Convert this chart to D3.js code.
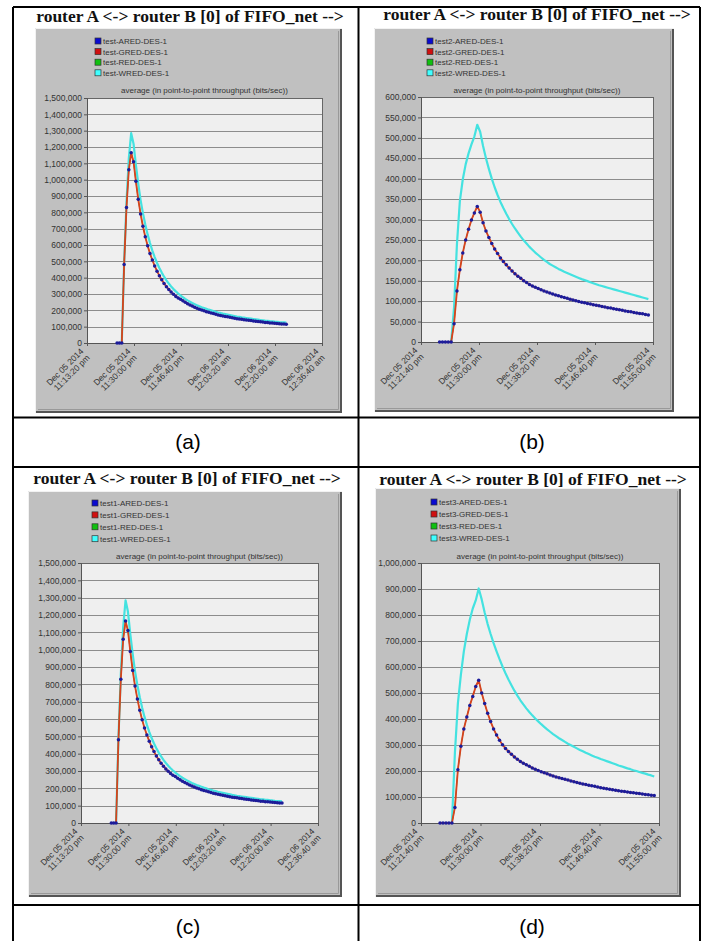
<!DOCTYPE html>
<html>
<head>
<meta charset="utf-8">
<script src="https://cdn.jsdelivr.net/npm/d3@7"></script>
<style>
  body { margin: 0; background: #fff; }
  svg { display: block; }
</style>
</head>
<body>
<div id="chart"></div>
<script>
// ---- data ----
var titleText = "router A <-> router B [0] of FIFO_net -->";
var plotTitle = "average (in point-to-point throughput (bits/sec))";

var aNames = ["test-ARED-DES-1", "test-GRED-DES-1", "test-RED-DES-1", "test-WRED-DES-1"];
var bNames = ["test2-ARED-DES-1", "test2-GRED-DES-1", "test2-RED-DES-1", "test2-WRED-DES-1"];
var cNames = ["test1-ARED-DES-1", "test1-GRED-DES-1", "test1-RED-DES-1", "test1-WRED-DES-1"];
var dNames = ["test3-ARED-DES-1", "test3-GRED-DES-1", "test3-RED-DES-1", "test3-WRED-DES-1"];

// x axis tick labels (long runs: a, c / short runs: b, d)
var longTicks = ["2014-12-05 23:13:20", "2014-12-05 23:30:00", "2014-12-05 23:46:40",
                 "2014-12-06 00:03:20", "2014-12-06 00:20:00", "2014-12-06 00:36:40"];
var shortTicks = ["2014-12-05 23:21:40", "2014-12-05 23:30:00", "2014-12-05 23:38:20",
                  "2014-12-05 23:46:40", "2014-12-05 23:55:00"];

var aYTicks = [0, 100000, 200000, 300000, 400000, 500000, 600000, 700000, 800000,
               900000, 1000000, 1100000, 1200000, 1300000, 1400000, 1500000];
var bYTicks = [0, 50000, 100000, 150000, 200000, 250000, 300000, 350000, 400000,
               450000, 500000, 550000, 600000];
var dYTicks = [0, 100000, 200000, 300000, 400000, 500000, 600000, 700000, 800000,
               900000, 1000000];

// sample clock of each run
var aStart = "2014-12-05 23:24:00", aStep = 50;
var bStart = "2014-12-05 23:24:20", bStep = 25;

// (a) ARED (blue) and WRED (cyan); GRED and RED sit on the ARED trace
var aBlue = [0, 0, 0, 480000, 830000, 1060000, 1165000, 1110000, 990000, 880000,
  790000, 715000, 650000, 595000, 548000, 508000, 472000, 440000, 412000, 387000,
  365000, 345000, 328000, 312000, 298000, 285000, 276000, 268000, 258000, 249000,
  241000, 233000, 226000, 219000, 213000, 207000, 202000, 197000, 192000, 188000,
  184000, 180000, 176000, 172000, 169000, 166000, 163000, 160000, 157000, 154000,
  152000, 149000, 147000, 145000, 143000, 141000, 139000, 137000, 135000, 133000,
  131000, 130000, 128000, 126000, 125000, 123000, 122000, 121000, 119000, 118000,
  117000, 116000, 115000];
var aCyan = [0, 0, 0, 490000, 860000, 1130000, 1285000, 1220000, 1090000, 975000,
  875000, 795000, 725000, 665000, 612000, 566000, 526000, 490000, 459000, 431000,
  406000, 384000, 364000, 346000, 330000, 316000, 303000, 291000, 280000, 270000,
  261000, 253000, 245000, 238000, 231000, 225000, 219000, 214000, 209000, 204000,
  200000, 195000, 191000, 187000, 184000, 180000, 177000, 174000, 171000, 168000,
  165000, 162000, 160000, 157000, 155000, 153000, 151000, 149000, 147000, 145000,
  143000, 141000, 139000, 137000, 136000, 134000, 133000, 131000, 130000, 128000,
  127000, 126000, 125000];

var bBlue = [0, 0, 0, 0, 0, 45000, 125000, 177000, 218000, 250000,
  276000, 299000, 316000, 332000, 318000, 292000, 272000, 256000, 241000, 228000,
  217000, 206000, 197000, 189000, 181000, 174000, 167000, 161000, 156000, 150000,
  146000, 141000, 137000, 134000, 131000, 128000, 125000, 122500, 120000, 117500,
  115000, 113000, 111000, 109000, 107000, 105000, 103000, 101000, 99000, 97500,
  96000, 94500, 93000, 91500, 90000, 88500, 87000, 85500, 84000, 83000,
  81500, 80000, 79000, 77500, 76000, 75000, 74000, 72500, 71000, 70000,
  69000, 67500, 66000];
var bCyan = [0, 0, 0, 0, 0, 85000, 240000, 345000, 398000, 435000,
  462000, 484000, 503000, 532000, 515000, 480000, 450000, 424000, 400000, 379000,
  360000, 343000, 328000, 314000, 301000, 289000, 278000, 268000, 258000, 249000,
  241000, 233000, 226000, 219000, 213000, 207000, 201000, 196000, 191000, 187000,
  183000, 179000, 175500, 172000, 169000, 166000, 163000, 160000, 157000, 154000,
  151500, 149000, 146500, 144000, 141500, 139000, 137000, 135000, 133000, 131000,
  129000, 127000, 125000, 123000, 121000, 119000, 117000, 115000, 113000, 111000,
  109000, 107000, 105000];

// (c) run traces are the same as (a)
var cBlue = aBlue, cCyan = aCyan;

var dBlue = [0, 0, 0, 0, 0, 60000, 205000, 295000, 362000, 408000,
  452000, 487000, 525000, 549000, 500000, 460000, 422000, 390000, 362000, 338000,
  318000, 301000, 287000, 275000, 264000, 254000, 245000, 237000, 230000, 224000,
  218000, 212000, 207000, 202000, 197000, 193000, 189000, 185000, 181000, 177000,
  174000, 171000, 168000, 165000, 162000, 159000, 156000, 153000, 150000, 148000,
  145000, 143000, 141000, 138000, 136000, 134000, 132000, 130000, 128000, 126000,
  124000, 122500, 121000, 119000, 117500, 116000, 114500, 113000, 111500, 110000,
  108500, 107000, 105500];
var dCyan = [0, 0, 0, 0, 0, 270000, 460000, 570000, 660000, 727000,
  782000, 825000, 856000, 902000, 860000, 810000, 765000, 727000, 692000, 660000,
  630000, 602000, 576000, 552000, 530000, 509000, 490000, 472000, 456000, 441000,
  427000, 414000, 402000, 391000, 380000, 370000, 360000, 351000, 342000, 334000,
  326000, 319000, 312000, 305000, 299000, 293000, 287000, 281000, 276000, 270000,
  265000, 260000, 255000, 251000, 246000, 242000, 238000, 234000, 230000, 226000,
  221000, 218000, 214000, 210000, 207000, 203000, 200000, 196000, 193000, 190000,
  186000, 183000, 179000];

// ---- drawing ----
var W = 706, H = 941;
var parse = d3.timeParse("%Y-%m-%d %H:%M:%S");
var fmtDay = d3.timeFormat("%b %d %Y"),
    fmtTime = d3.timeFormat("%I:%M:%S %p");
var sans = "'Liberation Sans', Arial, sans-serif";

var svg = d3.select("#chart").append("svg")
    .attr("width", W)
    .attr("height", H);

svg.append("rect").attr("width", W).attr("height", H).attr("fill", "#fff");

function series(start, step, values) {
  var t0 = parse(start);
  return values.map(function(v, i) {
    return {t: d3.timeSecond.offset(t0, i * step), v: v};
  });
}

var legendColors = ["#0a0ad0", "#d01010", "#10c010", "#40ffff"];

function drawPanel(p) {
  var g = svg.append("g");

  // title above the chart image
  g.append("text")
      .attr("x", p.titleX)
      .attr("y", p.titleY)
      .attr("text-anchor", "middle")
      .attr("font-family", "'Liberation Serif', 'Times New Roman', serif")
      .attr("font-weight", "bold")
      .attr("font-size", 17.5)
      .attr("fill", "#111")
      .text(titleText);

  // raised grey frame
  var b = p.box;
  g.append("rect")
      .attr("x", b.x).attr("y", b.y)
      .attr("width", b.w).attr("height", b.h)
      .attr("fill", "#c0c0c0");
  g.append("path")
      .attr("d", "M" + (b.x + 0.5) + "," + (b.y + b.h) + "V" + (b.y + 0.5) + "H" + (b.x + b.w))
      .attr("fill", "none").attr("stroke", "#f2f2f2");
  g.append("path")
      .attr("d", "M" + (b.x + b.w - 1) + "," + (b.y + 1) + "V" + (b.y + b.h - 1) + "H" + (b.x + 1))
      .attr("fill", "none").attr("stroke", "#555").attr("stroke-width", 2);
  g.append("path")
      .attr("d", "M" + (b.x + b.w - 3.5) + "," + (b.y + 3) + "V" + (b.y + b.h - 3.5) + "H" + (b.x + 3))
      .attr("fill", "none").attr("stroke", "#999");

  // legend
  var lg = g.append("g");
  p.names.forEach(function(name, i) {
    var yy = p.legend.y + i * p.legend.dy;
    lg.append("rect")
        .attr("x", p.legend.x).attr("y", yy - 3)
        .attr("width", 6).attr("height", 6)
        .attr("fill", legendColors[i])
        .attr("stroke", "#333").attr("stroke-width", 0.7);
    lg.append("text")
        .attr("x", p.legend.x + 8).attr("y", yy + 3)
        .attr("font-family", sans).attr("font-size", 8)
        .attr("fill", "#333")
        .text(name);
  });

  var pl = p.plot;
  var xTicks = p.ticks.map(parse);
  var x = d3.scaleTime()
      .domain([xTicks[0], xTicks[xTicks.length - 1]])
      .range([pl.x, pl.x + pl.w]);
  var y = d3.scaleLinear()
      .domain([0, p.yTicks[p.yTicks.length - 1]])
      .range([pl.y + pl.h, pl.y]);

  g.append("text")
      .attr("x", pl.x + pl.w / 2)
      .attr("y", p.plotTitleY)
      .attr("text-anchor", "middle")
      .attr("font-family", sans).attr("font-size", 8)
      .attr("fill", "#333")
      .text(plotTitle);

  g.append("rect")
      .attr("x", pl.x).attr("y", pl.y)
      .attr("width", pl.w).attr("height", pl.h)
      .attr("fill", "#efefef");

  // horizontal grid
  g.append("g").selectAll("line")
      .data(p.yTicks.slice(1))
      .join("line")
      .attr("x1", pl.x).attr("x2", pl.x + pl.w)
      .attr("y1", function(d) { return Math.round(y(d)) + 0.5; })
      .attr("y2", function(d) { return Math.round(y(d)) + 0.5; })
      .attr("stroke", "#8c8c8c");

  g.append("rect")
      .attr("x", pl.x + 0.5).attr("y", pl.y + 0.5)
      .attr("width", pl.w).attr("height", pl.h)
      .attr("fill", "none").attr("stroke", "#666");

  // y axis
  var yAxis = g.append("g")
      .attr("transform", "translate(" + pl.x + ",0)")
      .call(d3.axisLeft(y).tickValues(p.yTicks).tickFormat(d3.format(",")).tickSize(3).tickPadding(2));
  yAxis.select(".domain").attr("stroke", "#555");
  yAxis.selectAll(".tick line").attr("stroke", "#555");
  yAxis.selectAll("text")
      .attr("font-family", sans).attr("font-size", 8.5)
      .attr("fill", "#333");

  // x axis
  var y0 = pl.y + pl.h;
  var xAxis = g.append("g")
      .attr("transform", "translate(0," + y0 + ")")
      .call(d3.axisBottom(x).tickValues(xTicks).tickFormat("").tickSize(3));
  xAxis.select(".domain").attr("stroke", "#555");
  xAxis.selectAll(".tick line").attr("stroke", "#555");

  var labels = g.append("g").selectAll("g")
      .data(xTicks)
      .join("g")
      .attr("transform", function(d) {
        return "translate(" + (x(d) - 3) + "," + (y0 + 9) + ") rotate(-45)";
      });
  var txt = labels.append("text")
      .attr("text-anchor", "end")
      .attr("font-family", sans).attr("font-size", 8.5)
      .attr("fill", "#333");
  txt.append("tspan").attr("x", 0).attr("dy", 0)
      .text(function(d) { return fmtDay(d); });
  txt.append("tspan").attr("x", 0).attr("dy", "1.05em")
      .text(function(d) { return fmtTime(d).toLowerCase(); });

  // traces
  var blue = series(p.start, p.step, p.blue),
      cyan = series(p.start, p.step, p.cyan);
  var line = d3.line()
      .x(function(d) { return x(d.t); })
      .y(function(d) { return y(d.v); });

  g.append("path").datum(cyan)
      .attr("d", line).attr("fill", "none")
      .attr("stroke", "#44e2e0").attr("stroke-width", 2.2)
      .attr("stroke-linejoin", "round");
  // RED and GRED runs overlap the ARED run
  g.append("path").datum(blue)
      .attr("d", line).attr("fill", "none")
      .attr("stroke", "#22b022").attr("stroke-width", 1);
  g.append("path").datum(blue)
      .attr("d", line).attr("fill", "none")
      .attr("stroke", "#d8421e").attr("stroke-width", 1.8)
      .attr("stroke-linejoin", "round");
  g.append("g").selectAll("circle")
      .data(blue)
      .join("circle")
      .attr("cx", function(d) { return x(d.t); })
      .attr("cy", function(d) { return y(d.v); })
      .attr("r", 1.75)
      .attr("fill", "#1c1c9a");
}

var panels = [
  {names: aNames, titleX: 190, titleY: 22, ticks: longTicks, yTicks: aYTicks,
   start: aStart, step: aStep, blue: aBlue, cyan: aCyan,
   box: {x: 35, y: 28, w: 307, h: 385}, legend: {x: 95, y: 41, dy: 10.6},
   plotTitleY: 93, plot: {x: 87, y: 98, w: 235, h: 245}},
  {names: bNames, titleX: 537, titleY: 20, ticks: shortTicks, yTicks: bYTicks,
   start: bStart, step: bStep, blue: bBlue, cyan: bCyan,
   box: {x: 374, y: 28, w: 300, h: 384}, legend: {x: 427, y: 41, dy: 10.6},
   plotTitleY: 93, plot: {x: 421, y: 97, w: 232, h: 245}},
  {names: cNames, titleX: 187, titleY: 484, ticks: longTicks, yTicks: aYTicks,
   start: aStart, step: aStep, blue: cBlue, cyan: cCyan,
   box: {x: 28, y: 491, w: 314, h: 406}, legend: {x: 92, y: 503, dy: 11.9},
   plotTitleY: 559, plot: {x: 81, y: 563, w: 237, h: 260}},
  {names: dNames, titleX: 533, titleY: 485, ticks: shortTicks, yTicks: dYTicks,
   start: bStart, step: bStep, blue: dBlue, cyan: dCyan,
   box: {x: 375, y: 488, w: 306, h: 409}, legend: {x: 431, y: 502, dy: 12},
   plotTitleY: 559, plot: {x: 421, y: 563, w: 238, h: 260}}
];

panels.forEach(drawPanel);

// table rules and captions
var rules = svg.append("g").attr("stroke", "#000").attr("stroke-width", 2);
[[13, 7, 700, 7], [13, 417.5, 700, 417.5], [13, 467, 700, 467], [13, 905, 700, 905],
 [13, 7, 13, 941], [358.5, 7, 358.5, 941], [700, 7, 700, 941]].forEach(function(r) {
  rules.append("line").attr("x1", r[0]).attr("y1", r[1]).attr("x2", r[2]).attr("y2", r[3]);
});

var captions = [{t: "(a)", x: 188, y: 449}, {t: "(b)", x: 532, y: 449},
                {t: "(c)", x: 188, y: 934}, {t: "(d)", x: 532, y: 934}];
svg.append("g").selectAll("text")
    .data(captions)
    .join("text")
    .attr("x", function(d) { return d.x; })
    .attr("y", function(d) { return d.y; })
    .attr("text-anchor", "middle")
    .attr("font-family", sans).attr("font-size", 21)
    .attr("fill", "#000")
    .text(function(d) { return d.t; });
</script>
</body>
</html>
